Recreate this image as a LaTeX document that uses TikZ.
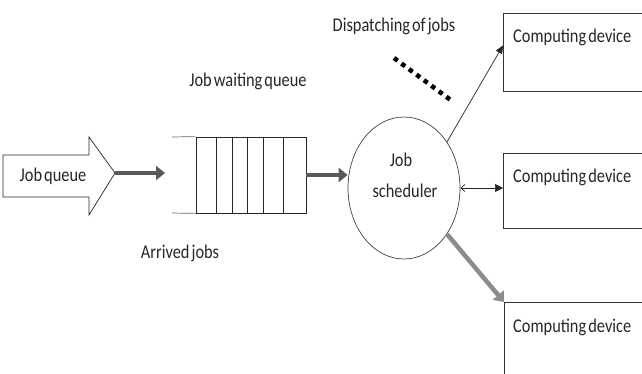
\documentclass[tikz,border=0pt]{standalone}
\usepackage{fontspec}
\setmainfont[FakeStretch=0.84, WordSpace=0.55]{Carlito}
\usetikzlibrary{arrows.meta,shapes.geometric}

\tikzset{
  lbl/.style={inner sep=0pt, font=\fontsize{19.5}{23}\selectfont, text=black!85},
  devbox/.style={draw=black!80, line width=0.9pt, minimum width=170pt, anchor=north west, inner sep=0pt},
  thin/.style={draw=black!85, line width=0.7pt},
  fatarrow/.style={line width=4.5pt, -{Triangle[length=9pt,width=14pt]}},
}

\begin{document}
\begin{tikzpicture}[x=1pt,y=-1pt]
\useasboundingbox (0,0) rectangle (642,373);

% big hollow arrow holding the incoming jobs
\draw[thin, fill=white] (3,155) -- (89,155) -- (89,137) -- (115,173) -- (89,215) -- (89,197) -- (3,197) -- cycle;
\coordinate (tip) at (115,173);
\node[lbl] (jq) at (53,176) {Job queue};

% waiting queue with its slots
\node[draw=black!85, line width=0.8pt, minimum width=110pt, minimum height=76pt, inner sep=0pt] (queue) at (251,175) {};
\draw[thin, black!60] (172,137) -- (queue.north west);
\draw[thin, black!60] (172,213) -- (queue.south west);
\foreach \x in {216,232,247,263,283}
  \draw[thin] (\x,137) -- (\x,213);
\coordinate (qin) at (165,173);
\node[lbl] (wq) at (248,81) {Job waiting queue};
\node[lbl] (aj) at (180,253) {Arrived jobs};

% scheduler
\node[ellipse, draw=black!75, line width=0.7pt, minimum width=112pt, minimum height=142pt, inner sep=0pt] (sched) at (404,188) {};
\node[lbl] (sj) at (401,160) {Job};
\node[lbl] (ss) at (405,191) {scheduler};

% computing devices
\node[devbox, minimum height=78pt] (dev1) at (503,13) {};
\node[devbox, minimum height=75pt] (dev2) at (503,153) {};
\node[devbox, minimum height=90pt] (dev3) at (504,302) {};
\node[lbl, anchor=west] (d1) at (513,37) {Computing device};
\node[lbl, anchor=west] (d2) at (513,177) {Computing device};
\node[lbl, anchor=west] (d3) at (513,327) {Computing device};

% dispatching label and dotted marker
\node[lbl] (dj) at (394,26) {Dispatching of jobs};
\coordinate (dotA) at (394,58);
\coordinate (dotB) at (452,101);
\draw[line width=4.5pt, black, dash pattern=on 4.5pt off 4.8pt] (dotA) -- (dotB);

% connectors
\draw[fatarrow, black!65] (tip) -- (qin);
\draw[fatarrow, black!65] (queue.east) -- (queue.east -| sched.west);
\draw[thin, -{Triangle[length=8pt,width=7pt]}] (sched.47) -- ([yshift=7pt]dev1.west);
\draw[thin, {Straight Barb[length=4pt,width=7pt]}-{Triangle[length=8pt,width=8pt]}] (sched.east) -- (sched.east -| dev2.west);
\draw[fatarrow, black!45] (sched.-47) -- (dev3.north west);
\end{tikzpicture}
\end{document}
